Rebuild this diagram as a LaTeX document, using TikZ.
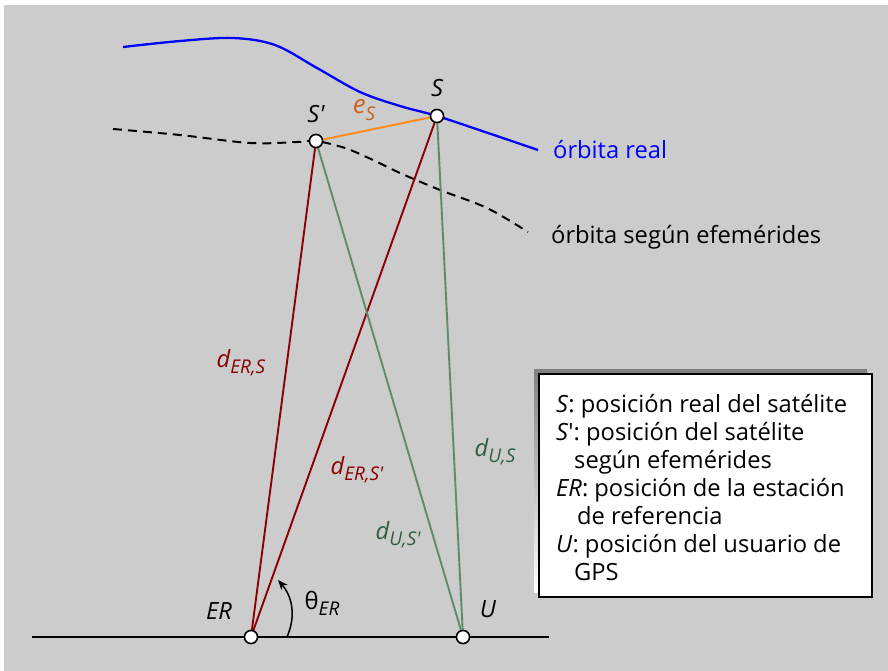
\documentclass[tikz,border=0pt]{standalone}
\usepackage{fontspec}
\setmainfont{Open Sans}
\usetikzlibrary{arrows.meta}
\definecolor{bg}{HTML}{CCCCCC}
\definecolor{dred}{HTML}{8B0000}
\definecolor{lgreen}{HTML}{5E8C6A}
\definecolor{dgreen}{HTML}{2E5E3E}
\definecolor{orln}{HTML}{FF8C1A}
\definecolor{orlb}{HTML}{C8641E}
\definecolor{shade}{HTML}{808080}
\newcommand\subs[1]{\raisebox{-0.45ex}{\fontsize{19}{19}\selectfont\itshape #1}}
\newcommand\qs{\textquotesingle}
\begin{document}
\begin{tikzpicture}[x=1bp,y=-1bp,
  every node/.style={font=\fontsize{23.8}{28}\selectfont, inner sep=0pt},
  pt/.style={circle, draw=black, fill=white, line width=1.5bp, minimum size=13bp},
  lnred/.style={draw=dred, line width=1.9bp},
  lngreen/.style={draw=lgreen, line width=1.9bp},
]
\useasboundingbox (0,0) rectangle (888,671);
\fill[bg] (4,5) rectangle (888,671);

\coordinate (gl) at (32,637);
\coordinate (gr) at (549,637);
\draw[line width=1.6bp] (gl) -- (gr);

% orbits
\draw[blue, line width=2.3bp] plot[smooth, tension=0.55] coordinates
  {(123,47) (180,41) (233,38) (275,45) (317,68) (360,92) (400,106) (437,116) (488,133) (538,150)};
\draw[black, line width=2bp, dash pattern=on 9bp off 6bp] plot[smooth, tension=0.55] coordinates
  {(113,129) (180,135) (250,143) (297,142) (316,141) (345,148) (373,160) (400,173) (440,190) (487,208) (528,232)};

\node[pt] (S) at (437,116) {};
\node[pt] (Sp) at (316,141) {};
\node[pt] (ER) at (251,637) {};
\node[pt] (U) at (463,637) {};

\draw[lnred] (ER) -- (Sp);
\draw[lnred] (ER) -- (S);
\draw[lngreen] (U) -- (Sp);
\draw[lngreen] (U) -- (S);
\draw[orln, line width=2bp] (Sp) -- (S);
% points on top
\node[pt] at (S) {};
\node[pt] at (Sp) {};
\node[pt] at (ER) {};
\node[pt] at (U) {};

% angle arrow
\coordinate (a0) at (287,637);
\coordinate (a1) at (278,580);
\draw[line width=1.5bp, -{Stealth[length=10bp,width=8bp]}] (a0) .. controls (297,614) and (291,595) .. (a1);

% labels
\node (lS) at (437,88) {\itshape S};
\node (lSp) at (316,114) {\itshape S\qs};
\node[text=orlb] (les) at (364,110) {\fontsize{26}{28}\selectfont\itshape e\subs{S}};
\node[text=blue, anchor=west] (lreal) at (553,150) {órbita real};
\node[anchor=west] (lefem) at (551,237) {órbita según efemérides};
\node[text=dred] (dERS) at (241,363) {\itshape d\subs{ER,S}};
\node[text=dred] (dERSp) at (357,470) {\itshape d\subs{ER,S\qs}};
\node[text=dgreen] (dUS) at (495,452) {\itshape d\subs{U,S}};
\node[text=dgreen] (dUSp) at (398,535) {\itshape d\subs{U,S\qs}};
\node (lth) at (322,603) {θ\subs{ER}};
\node (lER) at (219,611) {\itshape ER};
\node (lU) at (488,609) {\itshape U};

% legend box
\fill[shade] (534,369) rectangle (867,592);
\draw[fill=white, line width=1.8bp] (539,374) rectangle (872,597);
\node[anchor=base west, align=left] (leg) at (556,580) {%
\textit{S}: posición real del satélite\\
\textit{S}\qs: posición del satélite\\
\hspace*{18bp}según efemérides\\
\textit{ER}: posición de la estación\\
\hspace*{21bp}de referencia\\
\textit{U}: posición del usuario de\\
\hspace*{18bp}GPS};
\end{tikzpicture}
\end{document}
